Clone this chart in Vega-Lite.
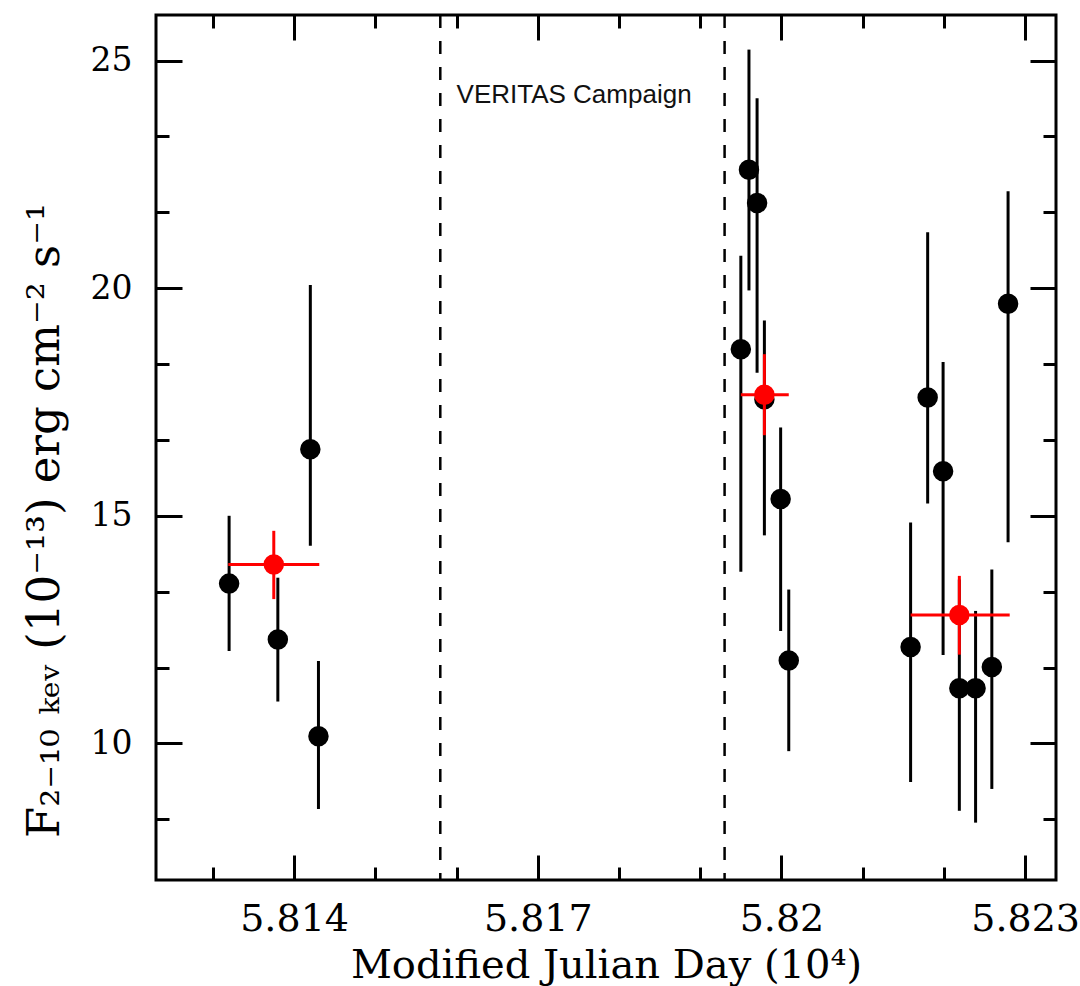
{
  "$schema": "https://vega.github.io/schema/vega-lite/v6.json",
  "autosize": {"type": "none"},
  "padding": {"left": 156, "top": 15, "right": 24, "bottom": 106},
  "width": 900,
  "height": 865,
  "background": "white",
  "config": {
    "view": {"stroke": "black", "strokeWidth": 3},
    "axis": {"grid": false, "domain": false, "tickColor": "black", "tickWidth": 3, "labelColor": "black", "titleColor": "black"}
  },
  "datasets": {
    "obs": [
      {"mjd": 5.8132, "flux": 13.51, "lo": 12.03, "hi": 15.0},
      {"mjd": 5.8138, "flux": 12.28, "lo": 10.92, "hi": 13.64},
      {"mjd": 5.8142, "flux": 16.46, "lo": 14.34, "hi": 20.07},
      {"mjd": 5.8143, "flux": 10.16, "lo": 8.56, "hi": 11.81},
      {"mjd": 5.8195, "flux": 18.66, "lo": 13.77, "hi": 20.71},
      {"mjd": 5.8196, "flux": 22.60, "lo": 19.95, "hi": 25.24},
      {"mjd": 5.8197, "flux": 21.87, "lo": 18.14, "hi": 24.17},
      {"mjd": 5.81979, "flux": 17.56, "lo": 14.57, "hi": 19.29},
      {"mjd": 5.81999, "flux": 15.37, "lo": 12.47, "hi": 16.94},
      {"mjd": 5.82009, "flux": 11.82, "lo": 9.83, "hi": 13.38},
      {"mjd": 5.82159, "flux": 12.12, "lo": 9.15, "hi": 14.85},
      {"mjd": 5.8218, "flux": 17.60, "lo": 15.27, "hi": 21.23},
      {"mjd": 5.82199, "flux": 15.98, "lo": 11.94, "hi": 18.38},
      {"mjd": 5.82219, "flux": 11.21, "lo": 8.52, "hi": 13.6},
      {"mjd": 5.82239, "flux": 11.21, "lo": 8.26, "hi": 12.91},
      {"mjd": 5.82259, "flux": 11.68, "lo": 9.0, "hi": 13.82},
      {"mjd": 5.82279, "flux": 19.66, "lo": 14.42, "hi": 22.13}
    ],
    "avg": [
      {"mjd": 5.81375, "flux": 13.93, "lo": 13.17, "hi": 14.67, "tlo": 5.81319, "thi": 5.81431},
      {"mjd": 5.81979, "flux": 17.66, "lo": 16.77, "hi": 18.55, "tlo": 5.8195, "thi": 5.82009},
      {"mjd": 5.82219, "flux": 12.82, "lo": 11.95, "hi": 13.68, "tlo": 5.82159, "thi": 5.82281}
    ],
    "campaign": [
      {"mjd": 5.8158},
      {"mjd": 5.8193}
    ],
    "label": [
      {"mjd": 5.8160, "flux": 24.06, "text": "VERITAS Campaign"}
    ]
  },
  "resolve": {"axis": {"x": "independent", "y": "independent"}},
  "layer": [
    {
      "data": {"name": "campaign"},
      "mark": {"type": "rule", "color": "black", "strokeWidth": 2.5, "strokeDash": [13, 13]},
      "encoding": {
        "x": {"field": "mjd", "type": "quantitative", "scale": {"domain": [5.8123, 5.82338], "zero": false, "nice": false}, "axis": null}
      }
    },
    {
      "data": {"name": "label"},
      "mark": {"type": "text", "font": "Liberation Sans", "fontSize": 26, "align": "left", "baseline": "alphabetic", "color": "#111"},
      "encoding": {
        "x": {"field": "mjd", "type": "quantitative", "axis": null},
        "y": {"field": "flux", "type": "quantitative", "scale": {"domain": [7, 26], "zero": false, "nice": false}, "axis": null},
        "text": {"field": "text"}
      }
    },
    {
      "data": {"name": "obs"},
      "mark": {"type": "rule", "color": "black", "strokeWidth": 3},
      "encoding": {
        "x": {
          "field": "mjd", "type": "quantitative",
          "axis": {
            "orient": "bottom",
            "values": [5.813, 5.814, 5.815, 5.816, 5.817, 5.818, 5.819, 5.82, 5.821, 5.822, 5.823],
            "tickSize": {"condition": {"test": "abs(datum.value*1000 - 3*round(datum.value*1000/3)) < 0.01", "value": -25}, "value": -13},
            "labelExpr": "abs(datum.value*1000 - 3*round(datum.value*1000/3)) < 0.01 ? format(datum.value, '.4~r') : ''",
            "labelFont": "DejaVu Serif", "labelFontSize": 38, "labelPadding": 45, "labelBaseline": "top",
            "title": "Modified Julian Day (10⁴)",
            "titleFont": "DejaVu Serif", "titleFontSize": 40, "titleFontWeight": "normal",
            "titleX": 450, "titleY": 97, "titleBaseline": "alphabetic", "titleAlign": "center"
          }
        },
        "y": {
          "field": "lo", "type": "quantitative",
          "axis": {
            "orient": "left",
            "values": [8.3333, 10, 11.6667, 13.3333, 15, 16.6667, 18.3333, 20, 21.6667, 23.3333, 25],
            "tickSize": {"condition": {"test": "datum.value % 5 == 0", "value": -26}, "value": -13},
            "labelExpr": "datum.value % 5 == 0 ? format(datum.value, 'd') : ''",
            "labelFont": "DejaVu Serif", "labelFontSize": 33, "labelPadding": 50, "labelBaseline": "middle",
            "title": "F₂₋₁₀ ₖₑᵥ  (10⁻¹³)  erg  cm⁻²  s⁻¹",
            "titleFont": "DejaVu Serif", "titleFontSize": 45, "titleFontWeight": "normal",
            "titleX": -112, "titleY": 505, "titleAngle": 270, "titleAlign": "center", "titleBaseline": "middle"
          }
        },
        "y2": {"field": "hi"}
      }
    },
    {
      "data": {"name": "obs"},
      "mark": {"type": "circle", "color": "black", "size": 420, "opacity": 1},
      "encoding": {
        "x": {
          "field": "mjd", "type": "quantitative",
          "axis": {
            "orient": "top", "labels": false, "title": null,
            "values": [5.813, 5.814, 5.815, 5.816, 5.817, 5.818, 5.819, 5.82, 5.821, 5.822, 5.823],
            "tickSize": {"condition": {"test": "abs(datum.value*1000 - 3*round(datum.value*1000/3)) < 0.01", "value": -25}, "value": -13}
          }
        },
        "y": {
          "field": "flux", "type": "quantitative",
          "axis": {
            "orient": "right", "labels": false, "title": null,
            "values": [8.3333, 10, 11.6667, 13.3333, 15, 16.6667, 18.3333, 20, 21.6667, 23.3333, 25],
            "tickSize": {"condition": {"test": "datum.value % 5 == 0", "value": -26}, "value": -13}
          }
        }
      }
    },
    {
      "data": {"name": "avg"},
      "mark": {"type": "rule", "color": "#ff0000", "strokeWidth": 3},
      "encoding": {
        "x": {"field": "mjd", "type": "quantitative", "axis": null},
        "y": {"field": "lo", "type": "quantitative", "axis": null},
        "y2": {"field": "hi"}
      }
    },
    {
      "data": {"name": "avg"},
      "mark": {"type": "rule", "color": "#ff0000", "strokeWidth": 3},
      "encoding": {
        "x": {"field": "tlo", "type": "quantitative", "axis": null},
        "x2": {"field": "thi"},
        "y": {"field": "flux", "type": "quantitative", "axis": null}
      }
    },
    {
      "data": {"name": "avg"},
      "mark": {"type": "circle", "color": "#ff0000", "size": 420, "opacity": 1},
      "encoding": {
        "x": {"field": "mjd", "type": "quantitative", "axis": null},
        "y": {"field": "flux", "type": "quantitative", "axis": null}
      }
    }
  ]
}
